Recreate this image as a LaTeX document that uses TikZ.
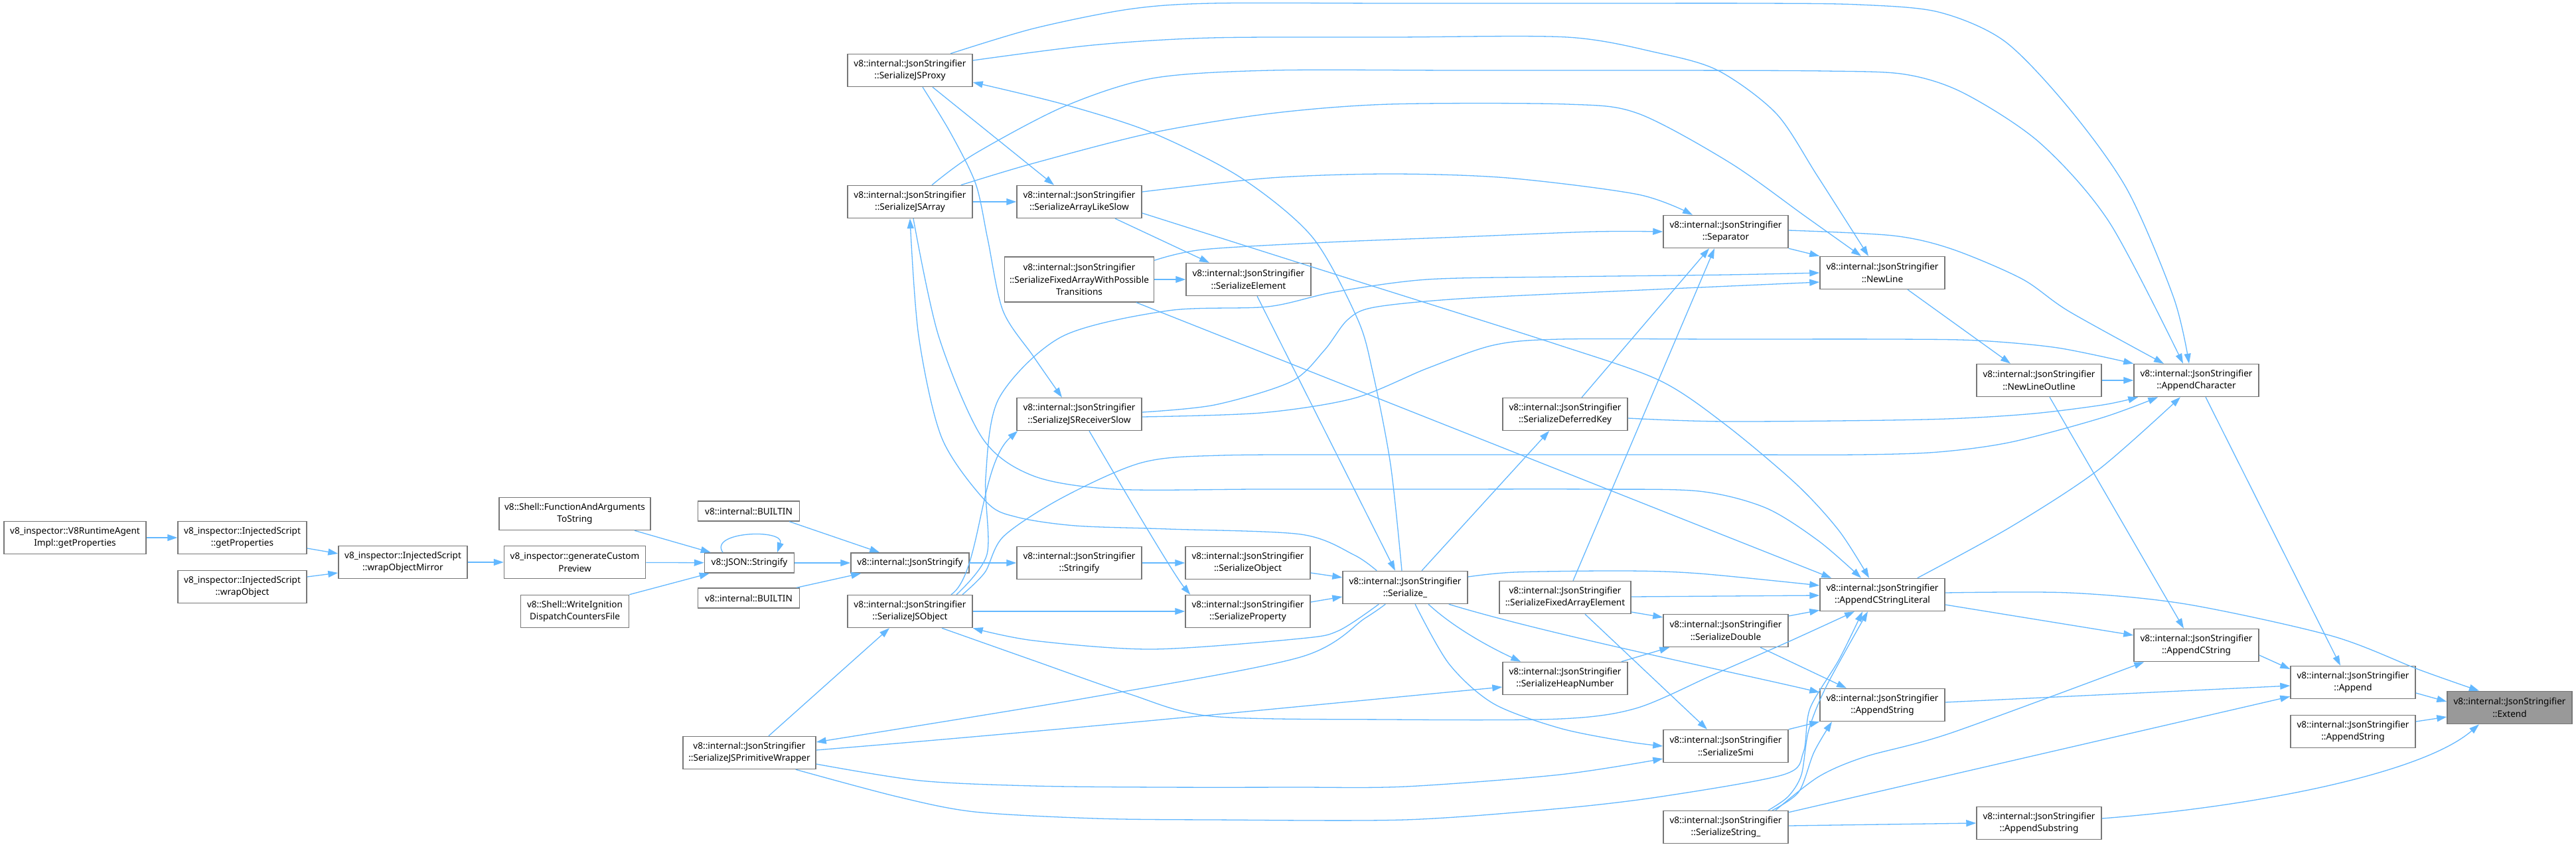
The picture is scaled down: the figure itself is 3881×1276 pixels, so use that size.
\documentclass[tikz,border=0pt]{standalone}
\usepackage{fontspec}
\setmainfont{Noto Sans}
\usepackage{tikz}
\usetikzlibrary{arrows.meta}
\definecolor{edgeblue}{HTML}{63B8FF}
\definecolor{boxline}{HTML}{777777}
\definecolor{selfill}{HTML}{999999}

\begin{document}
\begin{tikzpicture}[x=1pt,y=-1pt,font=\fontsize{13.6}{18.3}\selectfont,
  fn/.style={draw=boxline, fill=white, line width=1.5pt, inner sep=0pt, align=center,
    minimum width=188pt, minimum height=49pt},
  fnsel/.style={fn, fill=selfill},
  oneline/.style={minimum height=30pt},
  call/.style={draw=edgeblue, line width=1.3pt, -{Triangle[length=15pt,width=10pt]}},
  smoothcall/.style={call, smooth, tension=0.5}]
  \useasboundingbox[fill=white] (0,0) rectangle (3881,1276);

  % callers on the left
  \node[fn, minimum width=214pt] (rtAgent) at (113,810) {v8\_inspector::V8RuntimeAgent\\Impl::getProperties};
  \node[fn, minimum width=194pt] (injGetProps) at (365,810) {v8\_inspector::InjectedScript\\::getProperties};
  \node[fn, minimum width=194pt] (injWrapObj) at (365,884) {v8\_inspector::InjectedScript\\::wrapObject};
  \node[fn, minimum width=194pt] (wrapMirror) at (607,847) {v8\_inspector::InjectedScript\\::wrapObjectMirror};
  \node[fn, minimum width=213pt] (genPreview) at (866,847) {v8\_inspector::generateCustom\\Preview};
  \node[fn, minimum width=228pt] (funcArgs) at (866,774) {v8::Shell::FunctionAndArguments\\ToString};
  \node[fn, minimum width=163pt] (writeIgn) at (866,921) {v8::Shell::WriteIgnition\\DispatchCountersFile};
  \node[fn, oneline, minimum width=135pt] (jsonStr) at (1129,848) {v8::JSON::Stringify};
  \node[fn, oneline, minimum width=153pt] (builtinA) at (1128,770) {v8::internal::BUILTIN};
  \node[fn, oneline, minimum width=153pt] (builtinB) at (1128,901) {v8::internal::BUILTIN};
  \node[fn, oneline, minimum width=178pt] (intJsonStr) at (1371,848) {v8::internal::JsonStringify};

  % serializer nodes
  \node[fn] (jsProxy) at (1371,106) {v8::internal::JsonStringifier\\::SerializeJSProxy};
  \node[fn] (jsArray) at (1371,304) {v8::internal::JsonStringifier\\::SerializeJSArray};
  \node[fn] (jsObject) at (1371,921) {v8::internal::JsonStringifier\\::SerializeJSObject};
  \node[fn, minimum width=200pt] (primWrap) at (1129,1134) {v8::internal::JsonStringifier\\::SerializeJSPrimitiveWrapper};
  \node[fn] (arrLikeSlow) at (1626,304) {v8::internal::JsonStringifier\\::SerializeArrayLikeSlow};
  \node[fn, minimum width=225pt, minimum height=68pt] (fixedWPT) at (1626,421) {v8::internal::JsonStringifier\\::SerializeFixedArrayWithPossible\\Transitions};
  \node[fn] (recvSlow) at (1626,624) {v8::internal::JsonStringifier\\::SerializeJSReceiverSlow};
  \node[fn] (stringify) at (1626,848) {v8::internal::JsonStringifier\\::Stringify};
  \node[fn] (serElement) at (1881,421) {v8::internal::JsonStringifier\\::SerializeElement};
  \node[fn] (serObject) at (1880,848) {v8::internal::JsonStringifier\\::SerializeObject};
  \node[fn] (serProperty) at (1880,921) {v8::internal::JsonStringifier\\::SerializeProperty};
  \node[fn] (serialize) at (2117,885) {v8::internal::JsonStringifier\\::Serialize\_};
  \node[fn] (deferredKey) at (2358,624) {v8::internal::JsonStringifier\\::SerializeDeferredKey};
  \node[fn, minimum width=198pt] (fixedElem) at (2358,900) {v8::internal::JsonStringifier\\::SerializeFixedArrayElement};
  \node[fn] (heapNumber) at (2358,1022) {v8::internal::JsonStringifier\\::SerializeHeapNumber};
  \node[fn] (separator) at (2600,349) {v8::internal::JsonStringifier\\::Separator};
  \node[fn] (serDouble) at (2600,950) {v8::internal::JsonStringifier\\::SerializeDouble};
  \node[fn] (serSmi) at (2600,1124) {v8::internal::JsonStringifier\\::SerializeSmi};
  \node[fn] (serString) at (2600,1246) {v8::internal::JsonStringifier\\::SerializeString\_};

  % append helpers
  \node[fn] (newLine) at (2836,411) {v8::internal::JsonStringifier\\::NewLine};
  \node[fn] (appCStrLit) at (2836,896) {v8::internal::JsonStringifier\\::AppendCStringLiteral};
  \node[fn] (appStringM) at (2836,1062) {v8::internal::JsonStringifier\\::AppendString};
  \node[fn] (newLineOut) at (3072,573) {v8::internal::JsonStringifier\\::NewLineOutline};
  \node[fn] (appSubstr) at (3072,1240) {v8::internal::JsonStringifier\\::AppendSubstring};
  \node[fn] (appChar) at (3309,573) {v8::internal::JsonStringifier\\::AppendCharacter};
  \node[fn] (appCString) at (3309,972) {v8::internal::JsonStringifier\\::AppendCString};
  \node[fn] (append) at (3545,1028) {v8::internal::JsonStringifier\\::Append};
  \node[fn] (appStringR) at (3545,1102) {v8::internal::JsonStringifier\\::AppendString};
  \node[fnsel] (extend) at (3781,1066) {v8::internal::JsonStringifier\\::Extend};

  % left chain
  \draw[call] (rtAgent) -- (injGetProps);
  \draw[call] ([yshift=-16pt]injGetProps.east) -- ([yshift=13pt]wrapMirror.west);
  \draw[call] ([yshift=15pt]injWrapObj.east) -- ([yshift=-16pt]wrapMirror.west);
  \draw[call] (wrapMirror) -- (genPreview);
  \draw[call] (genPreview) -- (jsonStr);
  \draw[call] ([xshift=90pt]funcArgs.south) -- ([xshift=10pt]jsonStr.north west);
  \draw[call] (writeIgn.north east) -- ([xshift=8pt]jsonStr.south west);
  \draw[call] ([xshift=-40pt]jsonStr.north) .. controls +(-22,-32) and +(12,-36) .. ([xshift=42pt]jsonStr.north);
  \draw[call] (jsonStr) -- (intJsonStr);
  \draw[call] ([xshift=-16pt]builtinA.south east) -- ([xshift=44pt]intJsonStr.north west);
  \draw[call] ([xshift=-5pt]builtinB.north east) -- ([xshift=16pt]intJsonStr.south west);
  \draw[call] (intJsonStr) -- (stringify);
  \draw[call] (stringify) -- (serObject);
  \draw[call] ([yshift=-15pt]serObject.east) -- ([yshift=15pt]serialize.west);
  \draw[call] ([yshift=14pt]serProperty.east) -- ([yshift=-14pt]serialize.west);
  \draw[call] (jsObject) -- (serProperty);
  \draw[call] ([xshift=15pt]recvSlow.south) .. controls (1700,750) and (1770,868) .. ([xshift=8pt]serProperty.north west);
  \draw[call] ([xshift=62pt]jsObject.north) .. controls (1478,865) and (1475,700) .. ([xshift=2pt]recvSlow.south west);

  % long routed calls
  \draw[smoothcall] plot coordinates {([xshift=70pt]jsObject.north) (1487,835) (1485,720) (1505,600) (1600,507) (1760,468) (1910,462) (2010,440) (2150,421) (2350,417) (2600,414) (newLine.west)};
  \draw[smoothcall] plot coordinates {([xshift=79pt]jsObject.north) (1484,862) (1512,808) (1600,750) (1720,697) (1840,686) (2100,685) (2350,685) (2600,685) (2800,685) (2920,681) (3030,666) (3168,629) ([xshift=37pt]appChar.south west)};
  \draw[smoothcall] plot coordinates {([yshift=3pt]recvSlow.east) (1830,610) (1945,575) (1995,528) (2030,482) (2070,463) (2200,450) (2450,438) ([yshift=-14pt]newLine.west)};
  \draw[smoothcall] plot coordinates {([yshift=-4pt]recvSlow.east) (1900,622) (2040,600) (2150,555) (2250,520) (2350,511) (2600,511) (2850,511) (2980,513) (3100,524) (appChar.north west)};
  \draw[smoothcall] plot coordinates {([xshift=61pt]jsProxy.north) (1557,43) (1700,14) (1825,5) (2100,5) (2400,5) (2650,5) (2800,7) (2920,18) (3020,62) (3117,163) (3205,286) (3275,449) ([xshift=-11pt]appChar.north)};
  \draw[smoothcall] plot coordinates {([yshift=15pt]jsProxy.east) (1646,68) (1825,57) (2100,56) (2361,56) (2495,79) (2588,106) (2676,171) (2738,265) ([xshift=-21pt]newLine.north)};
  \draw[smoothcall] plot coordinates {([xshift=33pt]jsArray.north) (1468,232) (1602,161) (1736,118) (1914,106) (2200,106) (2500,106) (2750,107) (2870,112) (2958,140) (3073,215) (3178,335) ([xshift=-20pt]appChar.north)};
  \draw[smoothcall] plot coordinates {([xshift=-18pt]jsArray.north east) (1557,246) (1736,200) (1914,171) (2093,157) (2361,157) (2468,171) (2606,245) (2720,326) ([xshift=-32pt]newLine.north)};
  \draw[call] (jsArray) -- (arrLikeSlow);
  \draw[call] ([xshift=34pt]jsProxy.south) -- ([xshift=-38pt]arrLikeSlow.north);
  \draw[smoothcall] plot coordinates {([xshift=19pt]jsProxy.south) (1432,200) (1470,277) (1488,360) (1511,468) (1557,537) ([xshift=-26pt]recvSlow.north)};
  \draw[smoothcall] plot coordinates {([xshift=-5pt]serialize.north) (2095,700) (2068,560) (2045,480) (1977,357) (1870,268) (1736,200) (1602,157) ([yshift=-18pt]jsProxy.east)};
  \draw[smoothcall] plot coordinates {([yshift=15pt]arrLikeSlow.east) (1914,268) (2093,262) (2271,268) (2468,293) ([xshift=-50pt]separator.north)};
  \draw[call] ([xshift=54pt]arrLikeSlow.south) -- ([xshift=-59pt]serElement.north);
  \draw[smoothcall] plot coordinates {([yshift=-17pt]arrLikeSlow.east) (2030,419) (2343,518) (2500,573) (2600,640) (2707,730) (2771,800) ([xshift=-20pt]appCStrLit.north)};
  \draw[call] (fixedWPT) -- (serElement);
  \draw[smoothcall] plot coordinates {([yshift=-6pt]fixedWPT.north east) (1812,376) (2000,365) (2200,357) (2400,349) (separator.west)};
  \draw[call] ([xshift=86pt]fixedWPT.south) -- ([xshift=18pt]appCStrLit.north west);
  \draw[call] ([xshift=13pt]serElement.south) -- ([xshift=-15pt]serialize.north);
  \draw[smoothcall] plot coordinates {([xshift=52pt]serialize.north west) (2040,836) (1960,805) (1760,797) (1620,792) (1532,779) (1486,756) (1419,660) (1384,506) (jsArray.south)};
  \draw[smoothcall] plot coordinates {([xshift=5pt]jsArray.south) (1414,506) (1480,660) (1557,717) (1680,737) (1900,737) (2150,737) (2400,737) (2560,740) (2660,765) (2740,815) ([xshift=-32pt]appCStrLit.north)};
  \draw[call] ([xshift=25pt]serialize.north) -- ([xshift=-24pt]deferredKey.south);
  \draw[call] ([xshift=25pt]deferredKey.north) -- ([xshift=-25pt]separator.south);
  \draw[smoothcall] plot coordinates {([yshift=-6pt]deferredKey.east) (2600,635) (2900,632) (3053,624) (3168,610) ([xshift=7pt]appChar.south west)};

  % middle block
  \draw[call] ([xshift=12pt]fixedElem.north) -- ([xshift=-17pt]separator.south);
  \draw[call] ([yshift=1pt]fixedElem.east) -- ([yshift=-1pt]appCStrLit.west);
  \draw[call] ([yshift=-22pt]fixedElem.east) -- ([yshift=20pt]serDouble.west);
  \draw[call] ([xshift=30pt]fixedElem.south) -- ([xshift=-28pt]serSmi.north);
  \draw[call] ([xshift=-10pt]heapNumber.north east) -- ([xshift=10pt]serDouble.south west);
  \draw[call] ([yshift=22pt]serDouble.east) -- ([yshift=2pt]appCStrLit.south west);
  \draw[call] ([xshift=52pt]serDouble.south) -- ([xshift=-54pt]appStringM.north);
  \draw[call] (serSmi.north east) -- (appStringM.south west);
  \draw[smoothcall] plot coordinates {([yshift=16pt]serialize.east) (2283,862) (2450,860) (2560,864) ([yshift=14pt]appCStrLit.west)};
  \draw[call] ([xshift=35pt]serialize.south) .. controls (2195,950) and (2255,980) .. ([xshift=28pt]heapNumber.north west);
  \draw[call] ([xshift=-29pt]serialize.south east) .. controls (2330,955) and (2600,1010) .. ([yshift=19pt]appStringM.west);
  \draw[smoothcall] plot coordinates {([xshift=15pt]serialize.south) (2183,1000) (2250,1060) (2350,1097) (2450,1117) (serSmi.west)};
  \draw[smoothcall] plot coordinates {([xshift=55pt]serialize.south west) (2017,950) (1959,962) (1736,978) (1557,965) (jsObject.south east)};
  \draw[smoothcall] plot coordinates {([xshift=65pt]serialize.south west) (2057,931) (1959,990) (1646,1050) ([yshift=16pt]primWrap.east)};
  \draw[call] ([xshift=29pt]primWrap.north) -- ([xshift=-31pt]jsObject.south);
  \draw[call] ([yshift=4pt]primWrap.east) .. controls (1600,1100) and (2000,1060) .. ([yshift=-13pt]heapNumber.west);
  \draw[smoothcall] plot coordinates {([yshift=-17pt]primWrap.east) (1386,1176) (1557,1184) (1750,1186) (1950,1186) (2117,1185) (2350,1167) ([yshift=-19pt]serSmi.west)};
  \draw[smoothcall] plot coordinates {([xshift=-31pt]primWrap.south east) (1351,1200) (1468,1223) (1650,1233) (1825,1235) (2117,1235) (2350,1218) (2503,1200) (2687,1167) (2717,1133) (2727,1067) (2771,993) ([xshift=-30pt]appCStrLit.south)};
  \draw[smoothcall] plot coordinates {([xshift=48pt]jsObject.south) (1557,995) (1700,1045) (1825,1079) (2093,1084) (2350,1083) (2465,1067) (2580,1017) (2694,967) ([xshift=-42pt]appCStrLit.south)};
  \draw[smoothcall] plot coordinates {([xshift=64pt]serString.north) (2694,1200) (2714,1167) (2725,1100) (2752,1033) ([xshift=-22pt]appCStrLit.south)};
  \draw[smoothcall] plot coordinates {([xshift=70pt]serString.north) (2710,1193) (2733,1133) ([xshift=-76pt]appStringM.south)};
  \draw[smoothcall] plot coordinates {([xshift=75pt]serString.north) (2740,1170) (2810,1140) (2940,1104) ([xshift=16pt]appCString.south west)};
  \draw[call] ([yshift=-3pt]serString.north east) -- ([yshift=4pt]append.south west);
  \draw[call] ([yshift=2pt]serString.east) -- (appSubstr.west);

  % right side
  \draw[call] ([yshift=-15pt]appCStrLit.east) -- ([yshift=15pt]appCString.west);
  \draw[smoothcall] plot coordinates {([yshift=3pt]appCStrLit.east) (3117,893) (3293,910) (3513,958) (3645,1009) ([xshift=-46pt]extend.north)};
  \draw[call] ([yshift=-15pt]appCString.east) -- ([yshift=20pt]append.west);
  \draw[call] ([yshift=4pt]appStringM.east) -- ([yshift=-5pt]append.west);
  \draw[call] ([yshift=-16pt]append.east) -- ([yshift=9pt]extend.west);
  \draw[call] ([yshift=15pt]appStringR.east) -- ([yshift=-14pt]extend.west);
  \draw[call] ([yshift=7pt]appSubstr.east) .. controls (3400,1215) and (3650,1165) .. ([xshift=-46pt]extend.south);
  \draw[call] ([xshift=16pt]newLineOut.south) -- ([xshift=-19pt]appCString.north);
  \draw[call] ([xshift=14pt]appChar.south) -- ([xshift=-19pt]append.north);
  \draw[call] (newLineOut) -- (appChar);
  \draw[call] ([xshift=38pt]newLine.south) -- ([xshift=-43pt]newLineOut.north);
  \draw[call] (separator.south east) -- (newLine.north west);
  \draw[smoothcall] plot coordinates {([yshift=2pt]separator.east) (2852,355) (2940,375) (3046,420) (3117,469) ([xshift=-49pt]appChar.north)};
  \draw[smoothcall] plot coordinates {([xshift=-42pt]appCStrLit.north east) (3029,794) (3161,708) ([xshift=-24pt]appChar.south)};
\end{tikzpicture}
\end{document}
